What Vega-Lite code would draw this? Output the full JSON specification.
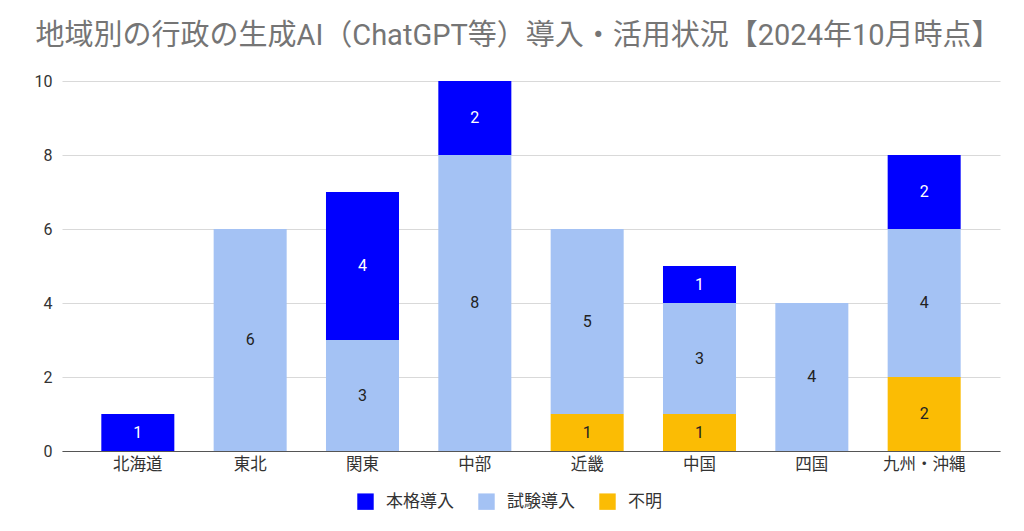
{
  "$schema": "https://vega.github.io/schema/vega-lite/v6.json",
  "width": 938,
  "height": 370,
  "autosize": {"type": "none"},
  "padding": {"left": 62, "right": 24, "top": 81, "bottom": 80},
  "background": "#ffffff",
  "title": {
    "text": "地域別の行政の生成AI（ChatGPT等）導入・活用状況【2024年10月時点】",
    "anchor": "middle",
    "font": "Roboto, Noto Sans CJK JP",
    "fontSize": 29,
    "fontWeight": "normal",
    "color": "#757575",
    "dx": -13,
    "offset": 22
  },
  "config": {"view": {"stroke": null}},
  "data": {
    "values": [
      {"region": "北海道", "category": "本格導入", "value": 1, "ord": 3},
      {"region": "東北", "category": "試験導入", "value": 6, "ord": 2},
      {"region": "関東", "category": "試験導入", "value": 3, "ord": 2},
      {"region": "関東", "category": "本格導入", "value": 4, "ord": 3},
      {"region": "中部", "category": "試験導入", "value": 8, "ord": 2},
      {"region": "中部", "category": "本格導入", "value": 2, "ord": 3},
      {"region": "近畿", "category": "不明", "value": 1, "ord": 1},
      {"region": "近畿", "category": "試験導入", "value": 5, "ord": 2},
      {"region": "中国", "category": "不明", "value": 1, "ord": 1},
      {"region": "中国", "category": "試験導入", "value": 3, "ord": 2},
      {"region": "中国", "category": "本格導入", "value": 1, "ord": 3},
      {"region": "四国", "category": "試験導入", "value": 4, "ord": 2},
      {"region": "九州・沖縄", "category": "不明", "value": 2, "ord": 1},
      {"region": "九州・沖縄", "category": "試験導入", "value": 4, "ord": 2},
      {"region": "九州・沖縄", "category": "本格導入", "value": 2, "ord": 3}
    ]
  },
  "encoding": {
    "x": {
      "field": "region",
      "type": "nominal",
      "sort": ["北海道", "東北", "関東", "中部", "近畿", "中国", "四国", "九州・沖縄"],
      "scale": {"paddingInner": 0.35, "paddingOuter": 0.35},
      "axis": {
        "title": null,
        "labelAngle": 0,
        "labelFont": "Roboto, Noto Sans CJK JP",
        "labelFontSize": 16.5,
        "labelColor": "#333333",
        "ticks": false,
        "grid": false,
        "domainColor": "#555555",
        "domainWidth": 1,
        "labelPadding": 5
      }
    },
    "y": {
      "field": "value",
      "type": "quantitative",
      "stack": "zero",
      "scale": {"domain": [0, 10]},
      "axis": {
        "title": null,
        "values": [0, 2, 4, 6, 8, 10],
        "labelFont": "Roboto",
        "labelFontSize": 16,
        "labelColor": "#333333",
        "ticks": false,
        "domain": false,
        "gridColor": "#d9d9d9",
        "labelPadding": 10
      }
    },
    "order": {"field": "ord", "type": "quantitative"}
  },
  "layer": [
    {
      "mark": {"type": "bar"},
      "encoding": {
        "color": {
          "field": "category",
          "type": "nominal",
          "scale": {
            "domain": ["本格導入", "試験導入", "不明"],
            "range": ["#0000ff", "#a4c2f4", "#fbbc04"]
          },
          "legend": {
            "title": null,
            "orient": "none",
            "legendX": 295,
            "legendY": 412,
            "direction": "horizontal",
            "symbolType": "square",
            "symbolSize": 270,
            "symbolStrokeWidth": 0,
            "labelFont": "Roboto, Noto Sans CJK JP",
            "labelFontSize": 17,
            "labelColor": "#333333",
            "labelOffset": 12,
            "columnPadding": 24
          }
        }
      }
    },
    {
      "mark": {"type": "text", "font": "Roboto", "fontSize": 16},
      "encoding": {
        "y": {"field": "value", "type": "quantitative", "stack": "zero", "bandPosition": 0.5},
        "text": {"field": "value", "type": "quantitative"},
        "color": {
          "condition": {"test": "datum.category === '本格導入'", "value": "#ffffff"},
          "value": "#222222"
        }
      }
    }
  ]
}
